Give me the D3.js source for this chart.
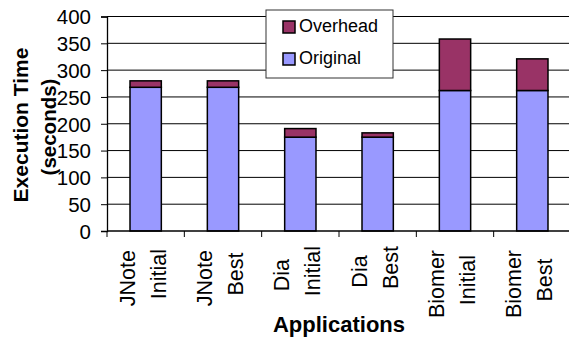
<!DOCTYPE html>
<html>
<head>
<meta charset="utf-8">
<script src="https://cdn.jsdelivr.net/npm/d3@7"></script>
<style>
  body { margin: 0; background: #fff; }
  text { font-family: "Liberation Sans", Arial, sans-serif; fill: #000; }
</style>
</head>
<body>
<svg width="569" height="340"></svg>
<script>
// data
var apps = ["JNote", "JNote", "Dia", "Dia", "Biomer", "Biomer"];
var variants = ["Initial", "Best", "Initial", "Best", "Initial", "Best"];
var original = [268, 268, 175, 175, 262, 262];
var overhead = [12, 12, 16, 8, 96, 59];
var yTicks = [0, 50, 100, 150, 200, 250, 300, 350, 400];
var seriesNames = ["Overhead", "Original"];
var colors = { Original: "#9999ff", Overhead: "#993366" };

var svg = d3.select("svg"),
    margin = { top: 16.5, right: 0, bottom: 109, left: 107 },
    width = 464,
    height = +svg.attr("height") - margin.top - margin.bottom;

var idx = d3.range(apps.length);

var x = d3.scaleBand().domain(idx).range([0, width]).padding(0);
var y = d3.scaleLinear().domain([0, 400]).range([height, 0]);

var g = svg.append("g")
    .attr("transform", "translate(" + margin.left + "," + margin.top + ")");

// gridlines
g.selectAll(".grid")
    .data(yTicks.slice(1))
    .enter().append("line")
    .attr("x1", 0).attr("x2", width)
    .attr("y1", function (d) { return y(d); })
    .attr("y2", function (d) { return y(d); })
    .attr("stroke", "#000").attr("stroke-width", 1);

// y axis
var yAxis = g.append("g")
    .call(d3.axisLeft(y).tickValues(yTicks).tickSize(6).tickPadding(10));
yAxis.select(".domain").attr("stroke", "#000").attr("stroke-width", 1.3);
yAxis.selectAll("text").style("font-size", "20.5px").attr("dy", "0.36em");

// stacked bars
var bw = x.bandwidth() * 0.405;
var stackData = idx.map(function (i) {
    return { i: i, Original: original[i], Overhead: overhead[i] };
});
var stack = d3.stack().keys(["Original", "Overhead"])(stackData);

g.selectAll(".layer")
    .data(stack)
    .enter().append("g")
    .attr("fill", function (d) { return colors[d.key]; })
    .selectAll("rect")
    .data(function (d) { return d; })
    .enter().append("rect")
    .attr("x", function (d) { return x(d.data.i) + x.bandwidth() / 2 - bw / 2; })
    .attr("y", function (d) { return y(d[1]); })
    .attr("width", bw)
    .attr("height", function (d) { return y(d[0]) - y(d[1]); })
    .attr("stroke", "#000")
    .attr("stroke-width", 1.5);

// x axis: line plus ticks at band edges
g.append("line")
    .attr("x1", 0).attr("x2", width)
    .attr("y1", height).attr("y2", height)
    .attr("stroke", "#000").attr("stroke-width", 1.3);
g.selectAll(".xtick")
    .data(idx)
    .enter().append("line")
    .attr("x1", function (d) { return x(d); })
    .attr("x2", function (d) { return x(d); })
    .attr("y1", height).attr("y2", height + 6)
    .attr("stroke", "#000");

// category labels, two rotated lines each
idx.forEach(function (i) {
    var cx = margin.left + x(i) + x.bandwidth() / 2;
    var lab = svg.append("g");
    var t1 = lab.append("text").text(apps[i]).style("font-size", "21.5px");
    var t2 = lab.append("text").text(variants[i]).style("font-size", "21.5px");
    var w = Math.max(t1.node().getComputedTextLength(), t2.node().getComputedTextLength());
    var cy = 249 + w / 2;
    t1.attr("text-anchor", "middle")
        .attr("transform", "translate(" + (cx - 11) + "," + (cy + 1) + ") rotate(-90)");
    t2.attr("text-anchor", "middle")
        .attr("transform", "translate(" + (cx + 20) + "," + (cy - 3) + ") rotate(-90)");
});

// axis titles
svg.append("text")
    .attr("text-anchor", "middle")
    .attr("x", 339).attr("y", 332)
    .style("font-size", "22px").style("font-weight", "bold")
    .text("Applications");
svg.append("text")
    .attr("text-anchor", "middle")
    .attr("transform", "translate(28,125) rotate(-90)")
    .style("font-size", "21px").style("font-weight", "bold")
    .text("Execution Time");
svg.append("text")
    .attr("text-anchor", "middle")
    .attr("transform", "translate(56,127) rotate(-90)")
    .style("font-size", "20.5px").style("font-weight", "bold")
    .text("(seconds)");

// legend
var legend = svg.append("g").attr("transform", "translate(266,10)");
legend.append("rect")
    .attr("width", 127).attr("height", 68)
    .attr("fill", "#fff").attr("stroke", "#333").attr("stroke-width", 1);
var item = legend.selectAll(".item")
    .data(seriesNames)
    .enter().append("g")
    .attr("transform", function (d, k) { return "translate(17," + (11 + k * 32) + ")"; });
item.append("rect")
    .attr("width", 12).attr("height", 12)
    .attr("fill", function (d) { return colors[d]; })
    .attr("stroke", "#000").attr("stroke-width", 1.5);
item.append("text")
    .attr("x", 16).attr("y", 11)
    .style("font-size", "18px")
    .text(function (d) { return d; });
</script>
</body>
</html>
